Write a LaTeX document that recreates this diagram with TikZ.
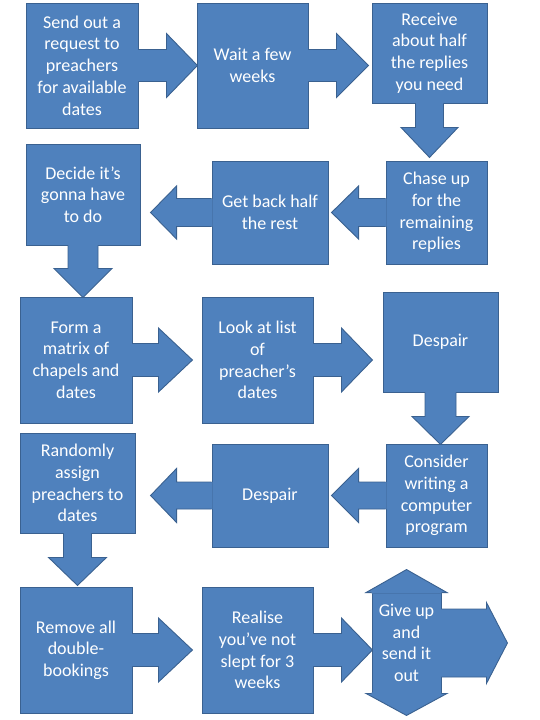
\documentclass[tikz,border=0pt]{standalone}
\usepackage{fontspec}
\setmainfont{Carlito}
\usetikzlibrary{calc}

\definecolor{boxblue}{HTML}{4F81BD}
\definecolor{boxedge}{HTML}{3A6190}

\tikzset{
	task/.style={rectangle, fill=boxblue, draw=boxedge, line width=0.9pt,
		inner sep=0pt, align=center, text=white,
		font=\fontsize{18}{21.7}\selectfont},
	flow/.style={fill=boxblue},
	rim/.style={draw=boxedge, line width=0.9pt, line join=miter},
}

% arrow out of a box: node, shaft length, head length, shaft half, head half
\newcommand{\goright}[5]{%
	\fill[flow] ($(#1.east)+(-1,-#4)$) -- ++(#2+1,0) -- ++(0,#4-#5) -- ++(#3,#5)
		-- ++(-#3,#5) -- ++(0,#4-#5) -- ++(-#2-1,0) -- cycle;
	\draw[rim] ($(#1.east)+(0,-#4)$) -- ++(#2,0) -- ++(0,#4-#5) -- ++(#3,#5)
		-- ++(-#3,#5) -- ++(0,#4-#5) -- ++(-#2,0);
}
\newcommand{\goleft}[5]{%
	\fill[flow] ($(#1.west)+(1,-#4)$) -- ++(-#2-1,0) -- ++(0,#4-#5) -- ++(-#3,#5)
		-- ++(#3,#5) -- ++(0,#4-#5) -- ++(#2+1,0) -- cycle;
	\draw[rim] ($(#1.west)+(0,-#4)$) -- ++(-#2,0) -- ++(0,#4-#5) -- ++(-#3,#5)
		-- ++(#3,#5) -- ++(0,#4-#5) -- ++(#2,0);
}
\newcommand{\godown}[5]{%
	\fill[flow] ($(#1.south)+(-#4,-1)$) -- ++(0,#2+1) -- ++(#4-#5,0) -- ++(#5,#3)
		-- ++(#5,-#3) -- ++(#4-#5,0) -- ++(0,-#2-1) -- cycle;
	\draw[rim] ($(#1.south)+(-#4,0)$) -- ++(0,#2) -- ++(#4-#5,0) -- ++(#5,#3)
		-- ++(#5,-#3) -- ++(#4-#5,0) -- ++(0,-#2);
}

\begin{document}
\begin{tikzpicture}[x=1pt, y=-1pt]
	\fill[white] (0,0) rectangle (540,720);
	\useasboundingbox (0,0) rectangle (540,720);

	% Reihe 1
	\node[task, minimum width=112pt, minimum height=125pt] (send) at (82,65.5)
		{Send out a\\request to\\preachers\\for available\\dates};
	\node[task, minimum width=111pt, minimum height=125pt] (wait) at (252.5,65.5)
		{Wait a few\\weeks};
	\node[task, minimum width=115pt, minimum height=100pt] (receive) at (429.5,53)
		{Receive\\about half\\the replies\\you need};
	\goright{send}{28}{31}{16}{32}
	\goright{wait}{28}{32}{16}{32}
	\godown{receive}{24}{30}{14}{28.5}

	% Reihe 2
	\node[task, minimum width=101pt, minimum height=103pt] (chase) at (436.5,212.5)
		{Chase up\\for the\\remaining\\replies};
	\node[task, minimum width=116pt, minimum height=103pt] (getback) at (270,212.5)
		{Get back half\\the rest};
	\node[task, minimum width=114pt, minimum height=101pt] (decide) at (83,194.5)
		{Decide it’s\\gonna have\\to do};
	\goleft{chase}{27}{27}{14}{26.5}
	\goleft{getback}{35}{26}{14}{26.5}
	\godown{decide}{23}{29}{15}{29}

	% Reihe 3
	\node[task, minimum width=112pt, minimum height=126pt] (form) at (76,360)
		{Form a\\matrix of\\chapels and\\dates};
	\node[task, minimum width=111pt, minimum height=126pt] (look) at (257.5,360)
		{Look at list\\of\\preacher’s\\dates};
	\node[task, minimum width=115pt, minimum height=100pt] (despair) at (440.5,342)
		{Despair};
	\goright{form}{26}{34}{16.5}{32}
	\goright{look}{28}{31}{16.5}{32}
	\godown{despair}{24}{28}{15.5}{28.5}

	% Reihe 4
	\node[task, minimum width=101pt, minimum height=103pt] (consider) at (436.5,495.5)
		{Consider\\writing a\\computer\\program};
	\node[task, minimum width=116pt, minimum height=103pt] (despairb) at (270,495.5)
		{Despair};
	\node[task, minimum width=115pt, minimum height=100pt] (assign) at (77.5,483)
		{Randomly\\assign\\preachers to\\dates};
	\goleft{consider}{27}{27}{13.5}{27}
	\goleft{despairb}{35}{26}{13.5}{27}
	\godown{assign}{24}{28}{14}{29}

	% Reihe 5
	\node[task, minimum width=112pt, minimum height=126pt] (remove) at (76,650)
		{Remove all\\double-\\bookings};
	\node[task, minimum width=111pt, minimum height=126pt] (realise) at (257.5,650)
		{Realise\\you’ve not\\slept for 3\\weeks};
	\node[task, minimum width=69pt, minimum height=100pt] (giveup) at (406.5,643)
		{Give up\\and\\send it\\out};
	\goright{remove}{26}{34}{16.5}{32}
	\goright{realise}{28}{31}{16.5}{32}
	\goright{giveup}{45}{21}{34}{40.5}

	% Spitzen oben und unten
	\fill[flow] ($(giveup.north west)+(0,1)$) -- (giveup.north west)
		-- ($(giveup.north)+(-40.5,0)$) -- ($(giveup.north)+(0,-23)$)
		-- ($(giveup.north)+(40.5,0)$) -- (giveup.north east)
		-- ($(giveup.north east)+(0,1)$) -- cycle;
	\draw[rim] (giveup.north west) -- ($(giveup.north)+(-40.5,0)$)
		-- ($(giveup.north)+(0,-23)$) -- ($(giveup.north)+(40.5,0)$)
		-- (giveup.north east);
	\fill[flow] ($(giveup.south west)+(0,-1)$) -- (giveup.south west)
		-- ($(giveup.south)+(-40.5,0)$) -- ($(giveup.south)+(0,22)$)
		-- ($(giveup.south)+(40.5,0)$) -- (giveup.south east)
		-- ($(giveup.south east)+(0,-1)$) -- cycle;
	\draw[rim] (giveup.south west) -- ($(giveup.south)+(-40.5,0)$)
		-- ($(giveup.south)+(0,22)$) -- ($(giveup.south)+(40.5,0)$)
		-- (giveup.south east);
\end{tikzpicture}
\end{document}
